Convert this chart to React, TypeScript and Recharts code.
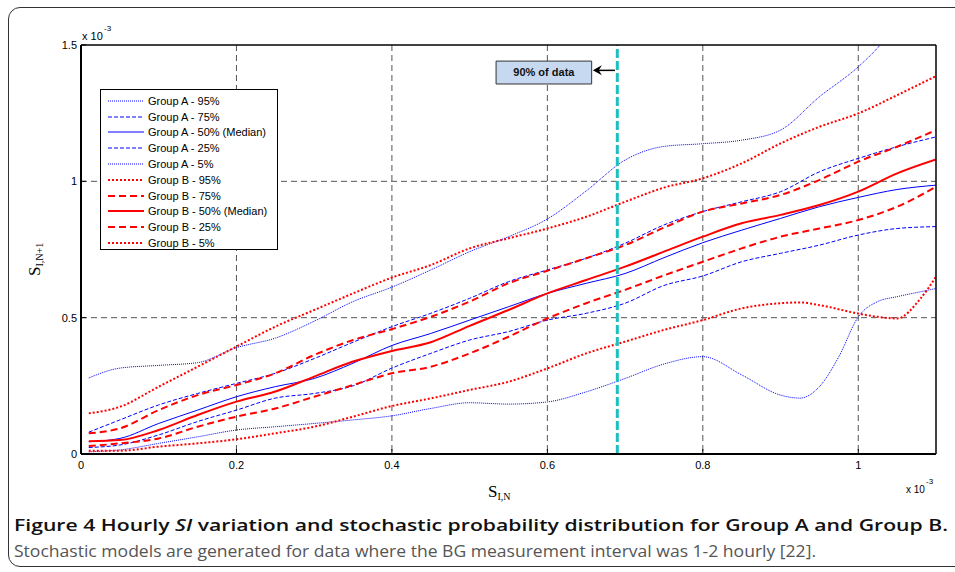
import { LineChart, Line, XAxis, YAxis, CartesianGrid, ReferenceLine, ReferenceArea, ReferenceDot } from 'recharts'

const N = null

// S_I,N sample points (x 10^-3)
const xs = [0.01, 0.05, 0.1, 0.15, 0.2, 0.25, 0.3, 0.35, 0.4, 0.45, 0.5, 0.55, 0.6, 0.65, 0.7, 0.75, 0.8, 0.85, 0.9, 0.925, 0.95, 0.975, 1.0, 1.025, 1.05, 1.08, 1.1]

const groupA95 = [0.279, 0.315, 0.325, 0.335, 0.39, 0.425, 0.487, 0.559, 0.612, 0.675, 0.742, 0.797, 0.862, 0.965, 1.078, 1.128, 1.138, 1.151, 1.188, N, 1.31, N, 1.42, 1.49, 1.58, N, N]
const groupA75 = [0.08, 0.125, 0.18, 0.222, 0.259, 0.296, 0.35, 0.41, 0.467, 0.516, 0.571, 0.632, 0.675, 0.718, 0.773, 0.84, 0.889, 0.925, 0.962, N, 1.035, N, 1.084, N, 1.127, N, 1.163]
const groupA50 = [0.045, 0.057, 0.112, 0.161, 0.21, 0.247, 0.277, 0.333, 0.398, 0.442, 0.491, 0.54, 0.589, 0.626, 0.662, 0.72, 0.775, 0.821, 0.864, N, 0.907, N, 0.941, N, 0.97, N, 0.986]
const groupA25 = [0.024, 0.033, 0.07, 0.119, 0.161, 0.205, 0.222, 0.25, 0.315, 0.369, 0.418, 0.449, 0.491, 0.516, 0.553, 0.618, 0.653, 0.705, 0.736, N, 0.766, N, 0.803, N, 0.827, N, 0.834]
const groupA5 = [0.008, 0.015, 0.039, 0.063, 0.088, 0.1, 0.112, 0.125, 0.14, 0.167, 0.188, 0.183, 0.191, 0.228, 0.277, 0.33, 0.357, 0.29, 0.216, 0.205, 0.247, 0.357, 0.503, 0.559, 0.577, 0.595, 0.607]
const groupB95 = [0.149, 0.173, 0.247, 0.32, 0.394, 0.467, 0.528, 0.589, 0.647, 0.693, 0.754, 0.791, 0.827, 0.87, 0.925, 0.977, 1.011, 1.066, 1.139, N, 1.2, N, 1.249, N, 1.316, N, 1.386]
const groupB75 = [0.076, 0.094, 0.161, 0.216, 0.253, 0.296, 0.363, 0.418, 0.458, 0.503, 0.559, 0.626, 0.672, 0.718, 0.766, 0.83, 0.889, 0.919, 0.95, N, 1.005, N, 1.072, N, 1.127, N, 1.188]
const groupB50 = [0.047, 0.051, 0.088, 0.143, 0.192, 0.229, 0.284, 0.339, 0.378, 0.41, 0.47, 0.528, 0.589, 0.638, 0.687, 0.742, 0.797, 0.846, 0.877, N, 0.913, N, 0.962, N, 1.029, N, 1.08]
const groupB25 = [0.029, 0.039, 0.057, 0.1, 0.137, 0.167, 0.21, 0.253, 0.296, 0.32, 0.369, 0.43, 0.497, 0.553, 0.602, 0.655, 0.705, 0.754, 0.797, N, 0.827, N, 0.858, N, 0.907, N, 0.98]
const groupB5 = [0.012, 0.012, 0.027, 0.039, 0.054, 0.076, 0.1, 0.137, 0.176, 0.204, 0.235, 0.265, 0.314, 0.369, 0.412, 0.455, 0.491, 0.534, 0.553, 0.556, 0.546, N, 0.515, 0.503, 0.497, 0.57, 0.65]

const xTicks = [0, 0.2, 0.4, 0.6, 0.8, 1]
const yTicks = [0, 0.5, 1, 1.5]

const cutoff = 0.69 // 90% of data

const series = [
  { key: 'a95', name: 'Group A - 95%', values: groupA95, color: '#0000ff', width: 1, dash: '1 1' },
  { key: 'a75', name: 'Group A - 75%', values: groupA75, color: '#0000ff', width: 1, dash: '4 2' },
  { key: 'a50', name: 'Group A - 50% (Median)', values: groupA50, color: '#0000ff', width: 1, dash: undefined },
  { key: 'a25', name: 'Group A - 25%', values: groupA25, color: '#0000ff', width: 1, dash: '4 2' },
  { key: 'a5', name: 'Group A - 5%', values: groupA5, color: '#0000ff', width: 1, dash: '1 1' },
  { key: 'b95', name: 'Group B - 95%', values: groupB95, color: '#ff0000', width: 2, dash: '2 2' },
  { key: 'b75', name: 'Group B - 75%', values: groupB75, color: '#ff0000', width: 2, dash: '7 4' },
  { key: 'b50', name: 'Group B - 50% (Median)', values: groupB50, color: '#ff0000', width: 2, dash: undefined },
  { key: 'b25', name: 'Group B - 25%', values: groupB25, color: '#ff0000', width: 2, dash: '7 4' },
  { key: 'b5', name: 'Group B - 5%', values: groupB5, color: '#ff0000', width: 2, dash: '2 2' },
]

const data = xs.map((x, i) => {
  const row: Record<string, number | null> = { x }
  series.forEach((s) => { row[s.key] = s.values[i] })
  return row
})

const sans = 'Liberation Sans, Arial, sans-serif'
const tickFont = { fill: '#000', fontSize: 11, fontFamily: sans }

function LegendBox() {
  return (
    <div style={{ position: 'absolute', left: 100, top: 89, width: 178, height: 161, border: '1px solid #000', background: '#fff', fontFamily: sans, fontSize: 11, paddingTop: 3, boxSizing: 'border-box' }}>
      {series.map((s) => (
        <div key={s.key} style={{ display: 'flex', alignItems: 'center', height: 15.8 }}>
          <svg width={44} height={10} style={{ marginLeft: 7 }}>
            <line x1={0} x2={36} y1={5} y2={5} stroke={s.color} strokeWidth={s.width} strokeDasharray={s.dash} />
          </svg>
          <span style={{ color: '#000', whiteSpace: 'nowrap', marginLeft: -4 }}>{s.name}</span>
        </div>
      ))}
    </div>
  )
}

function ArrowHead(props: any) {
  const { cx, cy } = props
  return <path d={`M ${cx} ${cy} L ${cx + 9} ${cy - 5} L ${cx + 6} ${cy} L ${cx + 9} ${cy + 5} Z`} fill="#000" />
}

export default function App() {
  return (
    <div style={{ position: 'absolute', left: 0, top: 0, width: 955, height: 572, background: '#fff', overflow: 'hidden' }}>
      <div style={{ position: 'absolute', left: 8, top: 7, width: 970, height: 558, border: '1px solid #333', borderRadius: 12 }} />
      <LineChart width={955} height={572} data={data} margin={{ top: 44, right: 18, bottom: 88, left: 0 }}>
        <CartesianGrid stroke="#555" strokeDasharray="6 4" verticalValues={[0.2, 0.4, 0.6, 0.8, 1]} horizontalValues={[0.5, 1]} />
        <XAxis dataKey="x" type="number" domain={[0, 1.1]} ticks={xTicks} allowDataOverflow
          tick={tickFont} tickSize={-5} tickMargin={12} axisLine={{ stroke: '#000', strokeWidth: 2 }} tickLine={{ stroke: '#000' }} height={30} />
        <XAxis xAxisId="top" orientation="top" type="number" domain={[0, 1.1]} ticks={xTicks} tick={false}
          tickSize={-5} axisLine={{ stroke: '#000', strokeWidth: 1.5 }} tickLine={{ stroke: '#000' }} height={1} />
        <YAxis type="number" domain={[0, 1.5]} ticks={yTicks} allowDataOverflow
          tick={tickFont} tickSize={-5} tickMargin={9} axisLine={{ stroke: '#000', strokeWidth: 2 }} tickLine={{ stroke: '#000' }} width={81} />
        <YAxis yAxisId="right" orientation="right" type="number" domain={[0, 1.5]} ticks={yTicks} tick={false}
          tickSize={-5} axisLine={{ stroke: '#000', strokeWidth: 1.5 }} tickLine={{ stroke: '#000' }} width={1} />
        {series.map((s) => (
          <Line key={s.key} dataKey={s.key} name={s.name} type="monotone" stroke={s.color} strokeWidth={s.width}
            strokeDasharray={s.dash} dot={false} connectNulls isAnimationActive={false} />
        ))}
        <ReferenceLine x={cutoff} stroke="#1ebfbf" strokeWidth={3} strokeDasharray="9 3" />
        <ReferenceArea x1={0.534} x2={0.657} y1={1.357} y2={1.441} fill="#c6d9f1" fillOpacity={1} stroke="#333" strokeWidth={1}
          label={{ value: '90% of data', position: 'center', fill: '#111', fontSize: 11, fontWeight: 'bold', fontFamily: sans }} />
        <ReferenceLine segment={[{ x: 0.662, y: 1.407 }, { x: 0.687, y: 1.407 }]} stroke="#000" strokeWidth={1.5} />
        <ReferenceDot x={0.6585} y={1.407} r={0} shape={<ArrowHead />} />
      </LineChart>
      <LegendBox />
      <svg width={955} height={572} style={{ position: 'absolute', left: 0, top: 0, pointerEvents: 'none' }}>
        <text x={82} y={40} fontSize={11} fontFamily={sans}>x 10</text>
        <text x={104} y={31} fontSize={8} fontFamily={sans}>-3</text>
        <text x={906} y={493} fontSize={10} fontFamily={sans}>x 10</text>
        <text x={926} y={484} fontSize={8} fontFamily={sans}>-3</text>
        <text x={488} y={497} fontSize={17} fontFamily="Liberation Serif, Times New Roman, serif">
          S<tspan fontSize={10} dy={3}>I,N</tspan>
        </text>
        <text transform="translate(40 276) rotate(-90)" fontSize={17} fontFamily="Liberation Serif, Times New Roman, serif">
          S<tspan fontSize={10} dy={3}>I,N+1</tspan>
        </text>
        <text x={14} y={531} fontSize={17} fontWeight={600} fontFamily="Open Sans, sans-serif" fill="#111"
          textLength={934} lengthAdjust="spacingAndGlyphs">
          Figure 4 Hourly <tspan fontStyle="italic">SI</tspan> variation and stochastic probability distribution for Group A and Group B.
        </text>
        <text x={14} y={557} fontSize={17} fontFamily="Open Sans, sans-serif" fill="#555"
          textLength={802} lengthAdjust="spacingAndGlyphs">
          Stochastic models are generated for data where the BG measurement interval was 1-2 hourly [22].
        </text>
      </svg>
    </div>
  )
}
